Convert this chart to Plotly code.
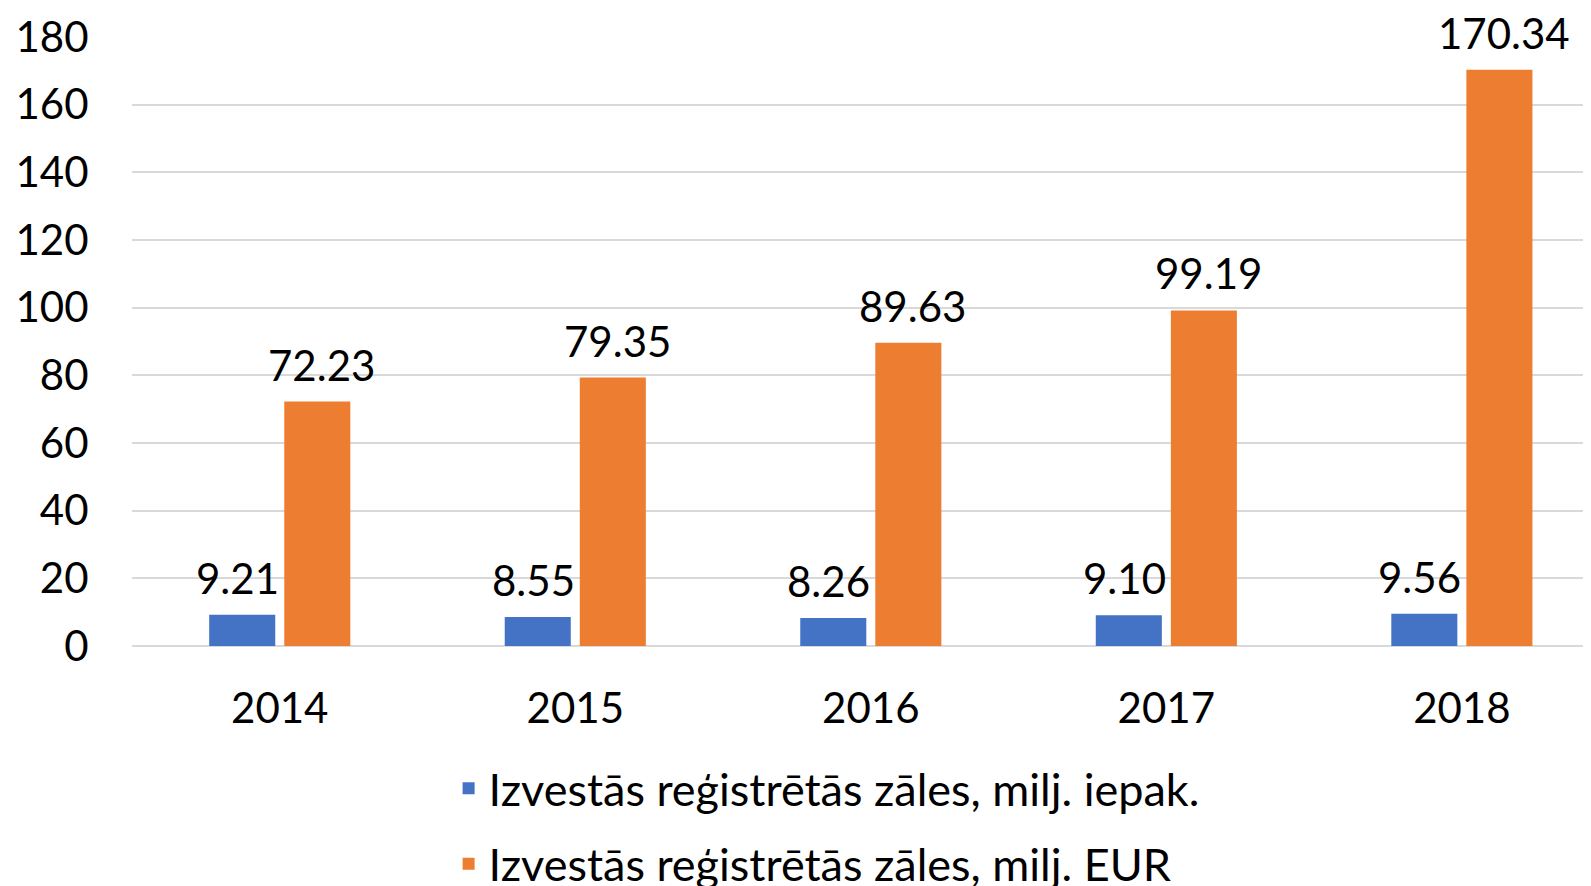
import plotly.graph_objects as go

years = ["2014", "2015", "2016", "2017", "2018"]
packs = [9.21, 8.55, 8.26, 9.10, 9.56]
eur = [72.23, 79.35, 89.63, 99.19, 170.34]
y_ticks = [0, 20, 40, 60, 80, 100, 120, 140, 160, 180]
name_packs = "Izvestās reģistrētās zāles, milj. iepak."
name_eur = "Izvestās reģistrētās zāles, milj. EUR"

FONT = "Lato"
FS = 42
BLUE = "#4472C4"
ORANGE = "#ED7D31"
GRID = "#D9D9D9"

fig = go.Figure()
fig.add_trace(go.Bar(x=years, y=packs, name=name_packs, marker_color=BLUE,
                     legendgroup="a", marker_line_width=0))
fig.add_trace(go.Bar(x=years, y=eur, name=name_eur, marker_color=ORANGE,
                     legendgroup="b", marker_line_width=0))

for i, v in enumerate(packs):
    fig.add_annotation(x=i, y=v, text=f"{v:.2f}", showarrow=False,
                       yanchor="bottom", xshift=-42, yshift=10,
                       font=dict(family=FONT, size=FS, color="black"))
for i, v in enumerate(eur):
    fig.add_annotation(x=i, y=v, text=f"{v:.2f}", showarrow=False,
                       yanchor="bottom", xshift=42, yshift=10,
                       font=dict(family=FONT, size=FS, color="black"))

fig.update_layout(
    width=1583, height=878,
    margin=dict(l=124, r=0, t=29, b=240, autoexpand=False),
    paper_bgcolor="white", plot_bgcolor="white",
    barmode="group", bargap=0.492, bargroupgap=0.12,
    font=dict(family=FONT, size=FS, color="black"),
    showlegend=True,
    legend=dict(orientation="v", x=0.217, y=-0.175, xanchor="left", yanchor="top",
                tracegroupgap=14, font=dict(family=FONT, size=45, color="black"),
                bgcolor="rgba(0,0,0,0)"),
)
fig.update_xaxes(type="category", range=[-0.5, 4.437], showgrid=False,
                 showline=False, ticks="outside", ticklen=26, automargin=False,
                 tickcolor="rgba(0,0,0,0)", tickfont=dict(family=FONT, size=FS))
fig.update_yaxes(range=[0, 180], tickvals=y_ticks, showgrid=True, gridcolor=GRID,
                 gridwidth=2, zeroline=True, zerolinecolor=GRID, zerolinewidth=2,
                 showline=False, ticks="outside", ticklen=34, automargin=False,
                 tickcolor="rgba(0,0,0,0)", tickfont=dict(family=FONT, size=FS))

fig.write_html("out.html")
